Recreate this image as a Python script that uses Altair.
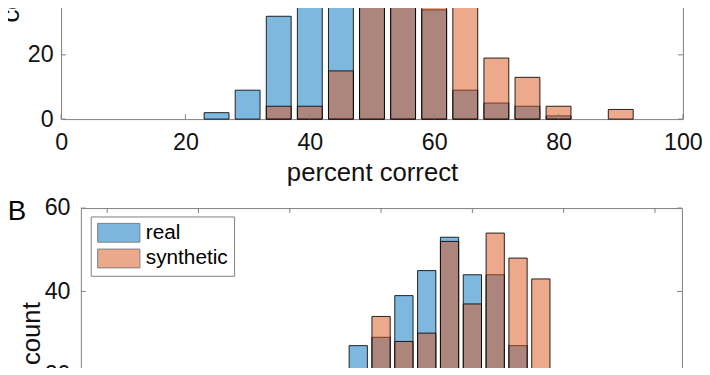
import altair as alt
import pandas as pd

# ---------------- data ----------------
SERIES = ["real", "synthetic"]
COLORS = ["#0072BD", "#D95319"]

A_BINS = [25, 30, 35, 40, 45, 50, 55, 60, 65, 70, 75, 80, 85, 90]
A_REAL = [2, 9, 32, 55, 64, 49, 36, 34, 9, 5, 4, 1, 0, 0]
A_SYNTH = [0, 0, 4, 4, 15, 35, 57, 41, 35, 19, 13, 4, 0, 3]

B_BINS = [55, 60, 65, 70, 75, 80, 85, 90, 95]
B_REAL = [27, 29, 39, 45, 53, 44, 44, 27, 21]
B_SYNTH = [18, 34, 28, 30, 52, 37, 54, 48, 43]

A_XTICKS = [0, 20, 40, 60, 80, 100]
A_YTICKS = [0, 20, 40, 60, 80]
B_XTICKS = [0, 20, 40, 60, 80, 100, 120]
B_YTICKS = [0, 20, 40, 60]

# ---------------- style / geometry ----------------
FONT = "Liberation Sans"
FRAME = "#7f7f7f"
PA_W, PA_H = 629, 260
PB_W, PB_H = 608, 253
SPACER_W = 20
TICK = 5


def long_table(bins, real, synth):
    rows = []
    for s, vals in zip(SERIES, [real, synth]):
        for b, v in zip(bins, vals):
            if v > 0:
                rows.append({"bin": b, "count": v, "series": s})
    return pd.DataFrame(rows)


def bar_layer(df, xdom, ydom, xaxis, yaxis, legend):
    return (
        alt.Chart(df)
        .transform_calculate(lo="datum.bin - 2", hi="datum.bin + 2", base="0")
        .mark_bar(fillOpacity=0.5, stroke="black", strokeWidth=1, strokeOpacity=0.85)
        .encode(
            x=alt.X("lo:Q", scale=alt.Scale(domain=xdom, nice=False, zero=False, padding=0),
                    axis=xaxis),
            x2="hi:Q",
            y=alt.Y("count:Q", scale=alt.Scale(domain=ydom, nice=False, padding=0),
                    axis=yaxis, stack=None),
            y2="base:Q",
            color=alt.Color("series:N", scale=alt.Scale(domain=SERIES, range=COLORS), legend=legend),
        )
    )


def tick_layers(xticks, yticks, w, h, top):
    xt = pd.DataFrame({"v": xticks})
    yt = pd.DataFrame({"v": yticks})
    layers = [
        alt.Chart(xt).mark_rule(color=FRAME, strokeWidth=1).encode(
            x="v:Q", y=alt.value(h), y2=alt.value(h - TICK)),
        alt.Chart(yt).mark_rule(color=FRAME, strokeWidth=1).encode(
            y="v:Q", x=alt.value(0), x2=alt.value(TICK)),
        alt.Chart(yt).mark_rule(color=FRAME, strokeWidth=1).encode(
            y="v:Q", x=alt.value(w - TICK), x2=alt.value(w)),
    ]
    if top:
        layers.append(alt.Chart(xt).mark_rule(color=FRAME, strokeWidth=1).encode(
            x="v:Q", y=alt.value(0), y2=alt.value(TICK)))
    return layers


# ---------------- panel A ----------------
dfA = long_table(A_BINS, A_REAL, A_SYNTH)
barsA = bar_layer(
    dfA, [0, 100], [0, 80],
    alt.Axis(values=A_XTICKS, title="percent correct", labelFontSize=23.5,
             labelBaseline="alphabetic", labelPadding=31, labelFlush=False,
             titleFontSize=26, titleX=PA_W / 2, titleY=61.7, titleBaseline="alphabetic"),
    alt.Axis(values=A_YTICKS, title="count", labelFontSize=23.5, labelPadding=8,
             labelFlush=False,
             titleFontSize=26, titleX=-43, titleY=PA_H / 2, titleBaseline="alphabetic"),
    None,
)
panelA = alt.layer(barsA, *tick_layers(A_XTICKS, A_YTICKS, PA_W, PA_H, True)).properties(
    width=PA_W, height=PA_H)

# ---------------- panel B ----------------
dfB = long_table(B_BINS, B_REAL, B_SYNTH)
barsB = bar_layer(
    dfB, [-5.76, 125.9], [0, 60],
    None,
    alt.Axis(values=B_YTICKS, title="count", labelFontSize=23.5, labelPadding=11,
             labelFlush=False,
             titleFontSize=26, titleX=-42, titleY=PB_H / 2, titleBaseline="alphabetic"),
    alt.Legend(
        title=None, orient="none", legendX=10, legendY=8.5, direction="vertical",
        strokeColor=FRAME, fillColor="white", padding=6,
        symbolType="M-1,-1L3.495,-1L3.495,1L-1,1Z", symbolSize=361,
        symbolStrokeColor="black", symbolStrokeWidth=1, symbolOpacity=0.5,
        labelFont=FONT, labelFontSize=21, labelColor="black", labelOffset=28.7,
        rowPadding=3,
    ),
)
panelB = alt.layer(barsB, *tick_layers(B_XTICKS, B_YTICKS, PB_W, PB_H, True)).properties(
    width=PB_W, height=PB_H,
    title=alt.TitleParams("B", anchor="start", orient="top", frame="group", font=FONT,
                          fontSize=28, fontWeight="normal", color="black",
                          dx=-74, dy=52, offset=0, baseline="alphabetic"),
).resolve_scale(color="independent")

spacer = alt.layer(
    alt.Chart(pd.DataFrame({"v": [0]})).mark_point(opacity=0).encode(
        x=alt.X("v:Q", axis=None), y=alt.Y("v:Q", axis=None))
).properties(width=SPACER_W, height=PB_H, view=alt.ViewBackground(stroke="transparent"))

rowB = alt.hconcat(spacer, panelB, spacing=0, bounds="flush").resolve_scale(color="independent")

chart = (
    alt.vconcat(panelA, rowB, spacing=90, bounds="flush")
    .resolve_scale(color="independent")
    .properties(
        autosize=alt.AutoSizeParams(type="none"),
        padding={"left": 53.7, "top": -149.7, "right": 648.3, "bottom": 509.7},
    )
    .configure_view(stroke=FRAME, strokeWidth=1)
    .configure_axis(
        labelFont=FONT, titleFont=FONT, labelColor="#111", titleColor="#111",
        titleFontWeight="normal", grid=False, ticks=False, tickSize=0, domain=False,
    )
)

chart.save("out.html", embed_options={"renderer": "svg", "actions": False})
